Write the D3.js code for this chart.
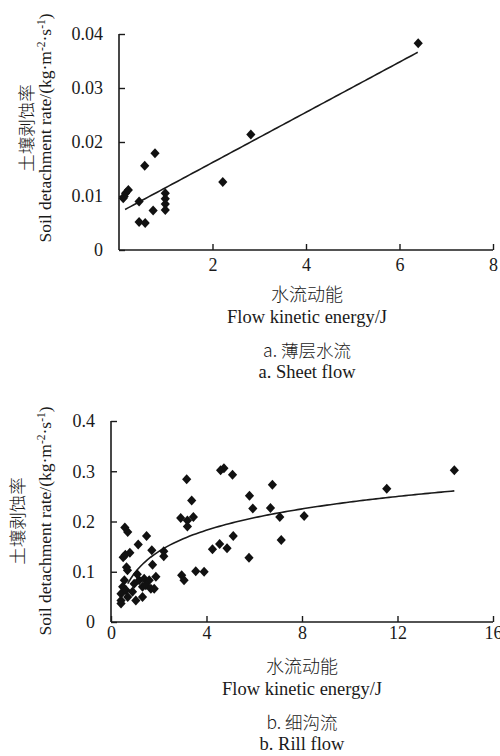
<!DOCTYPE html>
<html><head><meta charset="utf-8">
<script src="https://cdn.jsdelivr.net/npm/d3@7"></script>
<style>
html,body{margin:0;padding:0;background:#fff;}
svg{display:block;}
.lat{font-family:"Liberation Serif","Times New Roman",serif;fill:#1a1a1a;}
.cjk{font-family:"Noto Sans CJK SC",sans-serif;fill:#1a1a1a;font-weight:300;}
</style></head>
<body>
<script>
// ---- Data ----
const sheetX = [6.40, 2.82, 2.22, 0.77, 0.55, 0.09, 0.11, 0.14, 0.20, 0.43, 0.73, 0.99, 0.99, 0.99, 0.99, 0.43, 0.56];
const sheetY = [0.0383, 0.0214, 0.0126, 0.0179, 0.0156, 0.0096, 0.0099, 0.0105, 0.0111, 0.0090, 0.0073, 0.0105, 0.0095, 0.0085, 0.0074, 0.0052, 0.0050];
const sheetFit = {slope: 0.00465, intercept: 0.0069, xMin: 0.13, xMax: 6.39};
const sheetXTicks = [2, 4, 6, 8];
const sheetYTicks = [0, 0.01, 0.02, 0.03, 0.04];

const rillX = [14.38, 11.55, 4.59, 4.73, 5.09, 6.76, 5.80, 5.94, 6.68, 7.07, 8.09, 5.12, 4.25, 4.55, 4.86, 7.13, 5.78,
  3.17, 3.38, 2.92, 3.20, 3.45, 3.20, 0.58, 0.70, 1.14, 1.49, 0.51, 0.79, 1.71, 2.21, 2.21, 1.74, 0.65, 0.69,
  2.96, 3.06, 3.55, 3.90, 0.56, 0.49, 0.42, 0.42, 0.42, 0.63, 0.70, 0.97, 1.18, 1.39, 1.60, 1.88, 1.32, 1.46,
  1.67, 1.81, 1.04, 1.32, 0.60, 1.10, 0.90];
const rillY = [0.302, 0.265, 0.302, 0.306, 0.293, 0.273, 0.251, 0.226, 0.227, 0.209, 0.211, 0.171, 0.145, 0.155, 0.147, 0.163, 0.128,
  0.284, 0.242, 0.207, 0.202, 0.209, 0.190, 0.188, 0.179, 0.154, 0.171, 0.129, 0.138, 0.143, 0.141, 0.131, 0.114, 0.109, 0.103,
  0.093, 0.083, 0.101, 0.100, 0.083, 0.070, 0.056, 0.043, 0.037, 0.063, 0.050, 0.076, 0.083, 0.086, 0.083, 0.090, 0.070, 0.073,
  0.066, 0.066, 0.043, 0.050, 0.134, 0.095, 0.060];
const rillFit = {a: 0.098, b: 0.0611, xMin: 0.7, xMax: 14.38}; // y = a + b ln x
const rillXTicks = [0, 4, 8, 12, 16];
const rillYTicks = [0, 0.1, 0.2, 0.3, 0.4];

const yLabelCn = "土壤剥蚀率";
const xLabelCn = "水流动能";
const xLabelEn = "Flow kinetic energy/J";
const captionsA = ["a. 薄层水流", "a. Sheet flow"];
const captionsB = ["b. 细沟流", "b. Rill flow"];

// ---- Drawing ----
const svg = d3.select("body").append("svg").attr("width", 500).attr("height", 756);

function diamond(cx, cy) {
  const r = 5, w = 4.6;
  return `M${cx},${cy - r}L${cx + w},${cy}L${cx},${cy + r}L${cx - w},${cy}Z`;
}

function yLabel(g, cnX, enX, cy) {
  g.append("text").attr("class", "cjk").attr("font-size", 17.5)
    .attr("transform", `translate(${cnX},${cy}) rotate(-90)`).attr("text-anchor", "middle").text(yLabelCn);
  const t = g.append("text").attr("class", "lat").attr("font-size", 17.5)
    .attr("transform", `translate(${enX},${cy}) rotate(-90)`).attr("text-anchor", "middle");
  t.append("tspan").text("Soil detachment rate/(kg·m");
  t.append("tspan").attr("dy", -6).attr("font-size", 11.5).text("-2");
  t.append("tspan").attr("dy", 6).text("·s");
  t.append("tspan").attr("dy", -6).attr("font-size", 11.5).text("-1");
  t.append("tspan").attr("dy", 6).text(")");
}

function panel(opt) {
  const g = svg.append("g");
  const x = d3.scaleLinear().domain(opt.xDomain).range(opt.xRange);
  const y = d3.scaleLinear().domain(opt.yDomain).range(opt.yRange);
  // axes
  const ax = g.append("g").attr("transform", `translate(0,${opt.yRange[0]})`)
    .call(d3.axisBottom(x).tickValues(opt.xTicks).tickSize(-6).tickPadding(opt.xPad).tickFormat(d3.format("d")));
  const ay = g.append("g").attr("transform", `translate(${opt.xRange[0]},0)`)
    .call(d3.axisLeft(y).tickValues(opt.yTicks).tickSize(-6).tickPadding(opt.yPad).tickFormat(opt.yFmt));
  [ax, ay].forEach(a => {
    a.select(".domain").attr("stroke", "#1a1a1a").attr("stroke-width", 1.6);
    a.selectAll(".tick line").attr("stroke", "#1a1a1a").attr("stroke-width", 1.4);
    a.selectAll(".tick text").attr("class", "lat").attr("font-size", 18).attr("fill", "#1a1a1a");
  });
  ax.select(".domain").attr("d", `M${opt.xRange[0]},0H${opt.xRange[1]}`);
  ay.select(".domain").attr("d", `M0,${opt.yRange[0]}V${opt.yRange[1]}`);
  // fit line
  const xs = d3.range(0, 101).map(i => opt.fit.xMin + (opt.fit.xMax - opt.fit.xMin) * i / 100);
  g.append("path").datum(xs)
    .attr("d", d3.line().x(d => x(d)).y(d => y(opt.fitFn(d))))
    .attr("fill", "none").attr("stroke", "#1a1a1a").attr("stroke-width", 1.6);
  // points
  g.selectAll("path.pt").data(opt.xs.map((v, i) => [v, opt.ys[i]])).join("path")
    .attr("class", "pt").attr("d", d => diamond(x(d[0]), y(d[1]))).attr("fill", "#111");
  // labels
  yLabel(g, opt.cnYX, opt.enYX, opt.yLabelY);
  const cx = opt.labelX;
  g.append("text").attr("class", "cjk").attr("font-size", 18).attr("text-anchor", "middle")
    .attr("x", cx).attr("y", opt.lab[0]).text(xLabelCn);
  g.append("text").attr("class", "lat").attr("font-size", 18.5).attr("text-anchor", "middle")
    .attr("x", cx).attr("y", opt.lab[1]).text(xLabelEn);
  g.append("text").attr("class", "cjk").attr("font-size", 17.5).attr("text-anchor", "middle")
    .attr("x", cx).attr("y", opt.lab[2]).text(opt.caps[0]);
  g.append("text").attr("class", "lat").attr("font-size", 18.5).attr("text-anchor", "middle")
    .attr("x", cx).attr("y", opt.lab[3]).text(opt.caps[1]);
}

panel({
  xDomain: [0, 8], xRange: [119, 493], yDomain: [0, 0.04], yRange: [250, 34],
  xTicks: sheetXTicks, yTicks: sheetYTicks, yFmt: d => d === 0 ? "0" : d3.format(".2f")(d),
  xPad: 8, yPad: 16,
  xs: sheetX, ys: sheetY, fit: sheetFit, fitFn: v => sheetFit.intercept + sheetFit.slope * v,
  cnYX: 33, enYX: 51, yLabelY: 128, labelX: 307, lab: [301, 323, 357, 378], caps: captionsA
});

panel({
  xDomain: [0, 16], xRange: [111, 493], yDomain: [0, 0.4], yRange: [622, 421],
  xTicks: rillXTicks, yTicks: rillYTicks, yFmt: d => d === 0 ? "0" : d3.format(".1f")(d),
  xPad: 4, yPad: 16,
  xs: rillX, ys: rillY, fit: rillFit, fitFn: v => rillFit.a + rillFit.b * Math.log(v),
  cnYX: 24, enYX: 51, yLabelY: 521, labelX: 302, lab: [673, 695, 729, 750], caps: captionsB
});
</script>
</body></html>
